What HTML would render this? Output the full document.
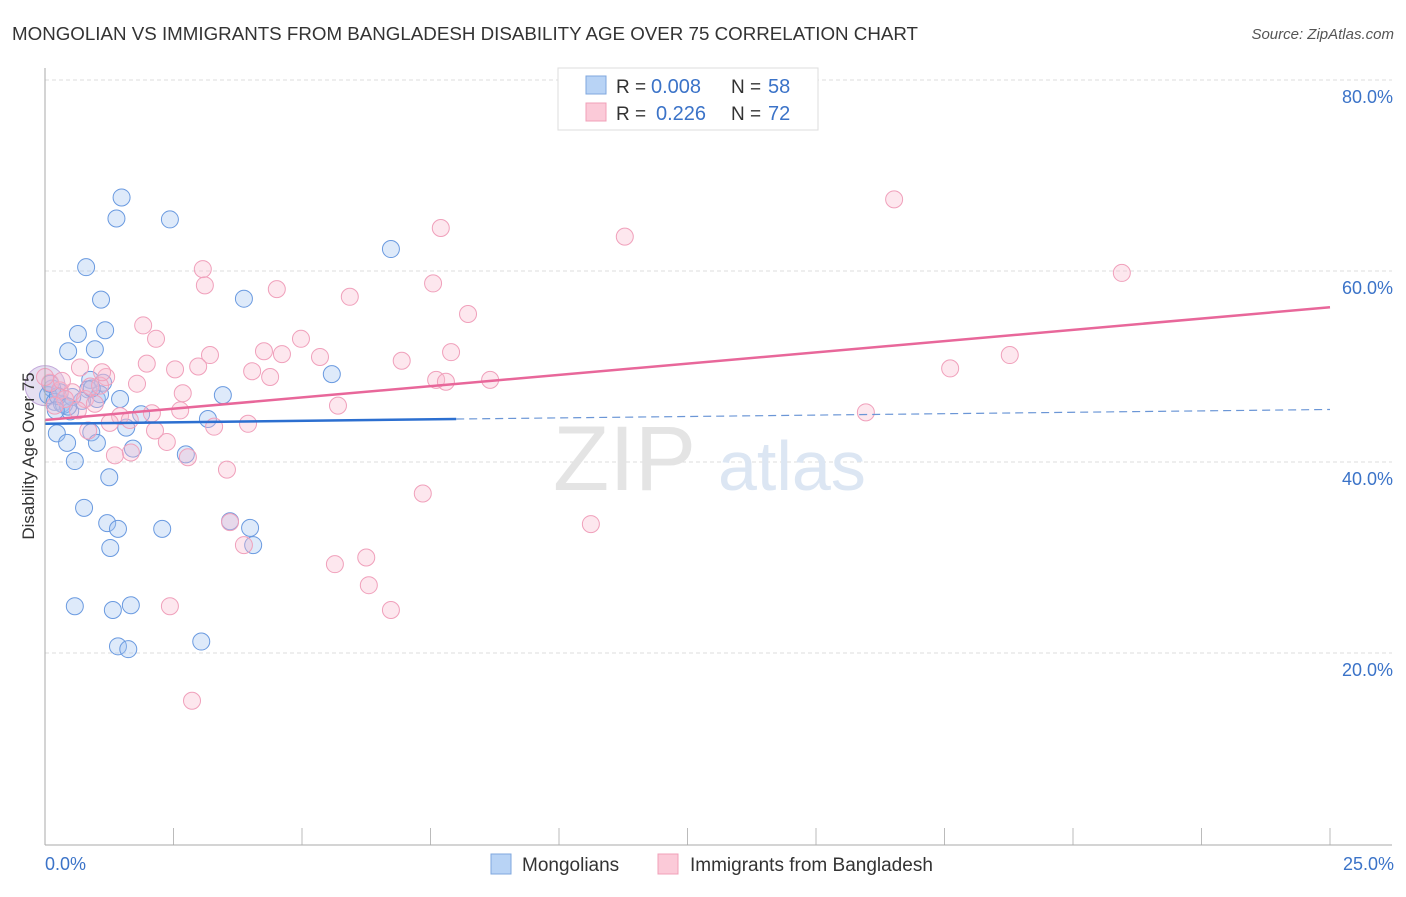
<!DOCTYPE html>
<html><head><meta charset="utf-8"><style>
body{margin:0;background:#fff;font-family:"Liberation Sans",sans-serif}
svg text{font-family:"Liberation Sans",sans-serif}
</style></head><body>
<svg id="c" width="1406" height="892">
<text x="12" y="40" font-size="18" fill="#333" textLength="906" lengthAdjust="spacingAndGlyphs">MONGOLIAN VS IMMIGRANTS FROM BANGLADESH DISABILITY AGE OVER 75 CORRELATION CHART</text>
<text x="1394" y="39" font-size="15" fill="#555" font-style="italic" text-anchor="end">Source: ZipAtlas.com</text>
<g id="grid"></g>
<text x="553" y="490" font-size="92" fill="#e4e4e4" font-family="Liberation Serif">ZIP</text>
<text x="718" y="490" font-size="70" fill="#dce6f3">atlas</text>
<g id="pts"></g>
<g id="lines"></g>
<line x1="45" y1="68" x2="45" y2="845" stroke="#aaa"/>
<line x1="45" y1="845" x2="1392" y2="845" stroke="#aaa"/>
<text transform="translate(34,456) rotate(-90)" font-size="17" fill="#333" text-anchor="middle">Disability Age Over 75</text>
<text x="45" y="870" font-size="18" fill="#3b73c8">0.0%</text>
<text x="1394" y="870" font-size="18" fill="#3b73c8" text-anchor="end">25.0%</text>
<g>
<rect x="558" y="68" width="260" height="62" fill="#fff" stroke="#ddd"/>
<rect x="586" y="76" width="20" height="18" fill="#b8d3f5" stroke="#7fa7de"/>
<rect x="586" y="103" width="20" height="18" fill="#fbcad8" stroke="#f0a0b8"/>
<text x="616" y="93" font-size="19" fill="#333">R =</text>
<text x="651" y="93" font-size="20" fill="#3b73c8">0.008</text>
<text x="731" y="93" font-size="19" fill="#333">N =</text>
<text x="768" y="93" font-size="20" fill="#3b73c8">58</text>
<text x="616" y="120" font-size="19" fill="#333">R =</text>
<text x="656" y="120" font-size="20" fill="#3b73c8">0.226</text>
<text x="731" y="120" font-size="19" fill="#333">N =</text>
<text x="768" y="120" font-size="20" fill="#3b73c8">72</text>
</g>
<g>
<rect x="491" y="854" width="20" height="20" fill="#b8d3f5" stroke="#7fa7de"/>
<text x="522" y="871" font-size="19" fill="#333">Mongolians</text>
<rect x="658" y="854" width="20" height="20" fill="#fbcad8" stroke="#f0a0b8"/>
<text x="690" y="871" font-size="19" fill="#333">Immigrants from Bangladesh</text>
</g>
</svg>
<script>
const yTicks=[20,40,60,80];
const yTickLabels=["20.0%","40.0%","60.0%","80.0%"];
const xTicks=[0,2.5,5,7.5,10,12.5,15,17.5,20,22.5,25];
const blueX=[1.49,1.39,2.43,6.73,0.80,1.09,3.87,0.64,1.17,0.45,0.97,5.58,3.46,0.88,1.13,0.84,1.01,0.29,0.14,0.06,0.19,0.33,0.49,3.17,1.87,1.58,0.90,0.23,0.43,1.01,1.71,2.74,0.58,1.25,0.76,1.21,1.42,2.28,3.99,1.27,4.05,0.58,1.32,1.67,1.42,1.62,3.04,0.72,0.37,0.25,0.10,0.53,1.07,0.91,0.45,1.46,0.21,3.60];
const blueY=[67.7,65.5,65.4,62.3,60.4,57.0,57.1,53.4,53.8,51.6,51.8,49.2,47.0,48.6,48.3,47.6,46.6,47.3,47.7,47.0,46.3,46.1,45.3,44.5,45.0,43.6,43.1,43.0,42.0,42.0,41.4,40.8,40.1,38.4,35.2,33.6,33.0,33.0,33.1,31.0,31.3,24.9,24.5,25.0,20.7,20.4,21.2,46.4,46.0,46.9,48.2,46.8,47.1,47.7,45.8,46.6,45.4,33.8];
const pinkX=[16.52,7.70,11.28,20.95,3.07,3.11,7.55,4.51,5.93,8.23,1.91,2.16,4.98,4.26,3.21,4.61,5.35,6.94,7.90,18.77,17.61,1.98,2.53,4.03,4.38,2.98,1.19,1.79,0.68,2.68,8.66,7.61,7.80,5.70,2.63,2.08,1.46,1.26,3.29,3.95,15.97,2.37,2.78,1.67,1.36,3.54,7.35,10.62,3.60,3.87,6.25,5.64,6.30,6.73,2.43,2.86,0.10,0.29,0.53,0.78,0.97,0.39,0.19,0.88,1.07,1.65,0.64,0.00,1.11,0.84,2.14,0.33];
const pinkY=[67.5,64.5,63.6,59.8,60.2,58.5,58.7,58.1,57.3,55.5,54.3,52.9,52.9,51.6,51.2,51.3,51.0,50.6,51.5,51.2,49.8,50.3,49.7,49.5,48.9,50.0,48.9,48.2,49.9,47.2,48.6,48.6,48.4,45.9,45.4,45.1,44.8,44.1,43.7,44.0,45.2,42.1,40.5,41.0,40.7,39.2,36.7,33.5,33.7,31.3,30.0,29.3,27.1,24.5,24.9,15.0,48.3,47.5,47.3,46.6,46.1,46.6,45.9,47.9,48.0,44.4,45.4,48.9,49.4,43.3,43.3,48.5];
const blueTrend=[[0,44.0],[8.0,44.5],[25,45.5]];
const pinkTrend=[[0,44.4],[25,56.2]];
const X0=45,X1=1330,Y0=844,pxPerY=9.55;
const sx=v=>X0+(X1-X0)*v/25, sy=v=>Y0-v*pxPerY;
const NS="http://www.w3.org/2000/svg";
const mk=(t,a,p)=>{const e=document.createElementNS(NS,t);for(const k in a)e.setAttribute(k,a[k]);p.appendChild(e);return e;};
const grid=document.getElementById('grid');
yTicks.forEach((v,i)=>{
 const l=mk('line',{x1:45,x2:1392,y1:sy(v),y2:sy(v),stroke:'#ddd','stroke-dasharray':'4,3'},grid);
 
 
 const t=mk('text',{x:1393,y:sy(v)+23,'font-size':18,fill:'#3b73c8','text-anchor':'end'},grid);
 t.textContent=yTickLabels[i];
 
 
});
xTicks.forEach(v=>{
 const l=mk('line',{x1:sx(v),x2:sx(v),y1:828,y2:845,stroke:'#bbb'},grid);
 
 
});
const pts=document.getElementById('pts');
const big1=mk('circle',{cx:sx(0),cy:sy(48),r:20,fill:'rgba(170,150,210,0.3)',stroke:'#c3a8da'},pts);


blueX.forEach((x,i)=>{
 const c=mk('circle',{cx:sx(x),cy:sy(blueY[i]),r:8.5,fill:'rgba(160,195,240,0.35)',stroke:'#6a9ae0','stroke-width':1},pts);
 
 
});
pinkX.forEach((x,i)=>{
 const c=mk('circle',{cx:sx(x),cy:sy(pinkY[i]),r:8.5,fill:'rgba(248,185,205,0.35)',stroke:'#f0a0bb','stroke-width':1},pts);
 
 
});
const lines=document.getElementById('lines');
const b1=mk('line',{x1:sx(blueTrend[0][0]),y1:sy(blueTrend[0][1]),x2:sx(blueTrend[1][0]),y2:sy(blueTrend[1][1]),stroke:'#2c6fd0','stroke-width':2.5},lines);


const b2=mk('line',{x1:sx(blueTrend[1][0]),y1:sy(blueTrend[1][1]),x2:sx(blueTrend[2][0]),y2:sy(blueTrend[2][1]),stroke:'#6b96d6','stroke-width':1.2,'stroke-dasharray':'8,5'},lines);


const p1=mk('line',{x1:sx(pinkTrend[0][0]),y1:sy(pinkTrend[0][1]),x2:sx(pinkTrend[1][0]),y2:sy(pinkTrend[1][1]),stroke:'#e8679a','stroke-width':2.5},lines);


</script>
</body></html>
